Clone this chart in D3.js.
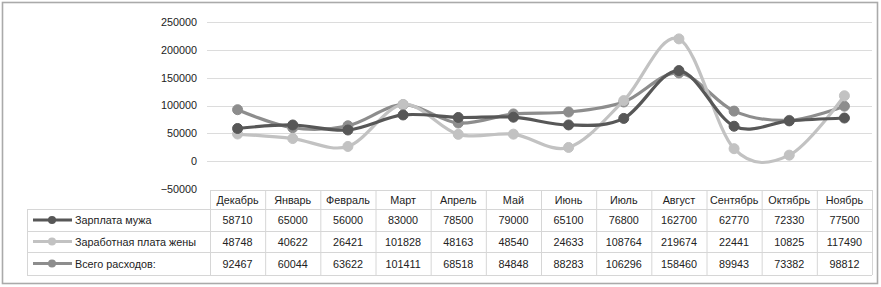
<!DOCTYPE html>
<html><head><meta charset="utf-8">
<script src="https://cdn.jsdelivr.net/npm/d3@7"></script>
<style>html,body{margin:0;padding:0;background:#fff;}svg{display:block;}</style>
</head><body>
<script>
const categories = ["Декабрь","Январь","Февраль","Март","Апрель","Май","Июнь","Июль","Август","Сентябрь","Октябрь","Ноябрь"];
const seriesNames = ["Зарплата мужа","Заработная плата жены","Всего расходов:"];
const husband = [58710,65000,56000,83000,78500,79000,65100,76800,162700,62770,72330,77500];
const wife = [48748,40622,26421,101828,48163,48540,24633,108764,219674,22441,10825,117490];
const total = [92467,60044,63622,101411,68518,84848,88283,106296,158460,89943,73382,98812];
const yTicks = [-50000,0,50000,100000,150000,200000,250000];

const W = 881, H = 287;
const colors = ["#575757","#c2c2c2","#8d8d8d"];
const seriesData = [husband, wife, total];
const font = "'Liberation Sans', Arial, sans-serif";
const fs = 10.8;
const txtC = "#222";

const svg = d3.select("body").append("svg").attr("width", W).attr("height", H)
  .style("font-family", font).style("font-size", fs + "px");

// outer frame
svg.append("rect").attr("x", 2.5).attr("y", 2.5).attr("width", W - 6).attr("height", H - 6)
  .attr("fill", "#fff").attr("stroke", "#aaaaaa").attr("stroke-width", 1.6);

const left = 210, right = 872;
const x = d3.scaleBand().domain(categories).range([left, right]).padding(0);
const y = d3.scaleLinear().domain([-50000, 250000]).range([189, 22]);

// gridlines
svg.append("g").selectAll("line").data(yTicks.filter(t => t > -50000)).join("line")
  .attr("x1", 207).attr("x2", right).attr("y1", d => Math.round(y(d)) + 0.5).attr("y2", d => Math.round(y(d)) + 0.5)
  .attr("stroke", "#dcdcdc").attr("stroke-width", 1);

// y axis labels
const yAxis = d3.axisLeft(y).tickValues(yTicks).tickSize(0).tickPadding(0).tickFormat(d3.format("d"));
const ga = svg.append("g").attr("transform", "translate(197,0)").call(yAxis);
ga.select(".domain").remove();
ga.selectAll("text").attr("fill", txtC).style("font-family", font).style("font-size", fs + "px");

// lines
const line = d3.line().x((d, i) => x(categories[i]) + x.bandwidth() / 2).y(d => y(d)).curve(d3.curveCardinal.tension(0));
const order = [2, 1, 0];
order.forEach(si => {
  const g = svg.append("g");
  g.append("path").attr("d", line(seriesData[si])).attr("fill", "none")
    .attr("stroke", colors[si]).attr("stroke-width", 3.2).attr("stroke-linejoin", "round");
  g.selectAll("circle").data(seriesData[si]).join("circle")
    .attr("cx", (d, i) => x(categories[i]) + x.bandwidth() / 2).attr("cy", d => y(d)).attr("r", 5)
    .attr("fill", colors[si]).attr("stroke", colors[si]);
});

// data table
const tbl = svg.append("g");
const rowTops = [190, 209, 231, 252, 275];
const legendLeft = 27;
const gridC = "#d6d6d6";
tbl.append("line").attr("x1", left).attr("x2", right).attr("y1", rowTops[0] + 0.5).attr("y2", rowTops[0] + 0.5).attr("stroke", gridC);
rowTops.slice(1).forEach(t => tbl.append("line").attr("x1", legendLeft).attr("x2", right).attr("y1", t + 0.5).attr("y2", t + 0.5).attr("stroke", gridC));
categories.forEach(c => tbl.append("line").attr("x1", x(c) + 0.5).attr("x2", x(c) + 0.5).attr("y1", rowTops[0]).attr("y2", rowTops[4]).attr("stroke", gridC));
tbl.append("line").attr("x1", right + 0.5).attr("x2", right + 0.5).attr("y1", rowTops[0]).attr("y2", rowTops[4]).attr("stroke", gridC);
tbl.append("line").attr("x1", legendLeft + 0.5).attr("x2", legendLeft + 0.5).attr("y1", rowTops[1]).attr("y2", rowTops[4]).attr("stroke", gridC);

// header
tbl.selectAll("text.hdr").data(categories).join("text").attr("class", "hdr")
  .attr("x", d => x(d) + x.bandwidth() / 2).attr("y", (rowTops[0] + rowTops[1]) / 2 + 4)
  .attr("text-anchor", "middle").attr("fill", txtC).text(d => d);

// rows
seriesData.forEach((arr, si) => {
  const cy = (rowTops[si + 1] + rowTops[si + 2]) / 2;
  tbl.append("line").attr("x1", 33).attr("x2", 72).attr("y1", cy).attr("y2", cy)
    .attr("stroke", colors[si]).attr("stroke-width", 3.2);
  tbl.append("circle").attr("cx", 52).attr("cy", cy).attr("r", 4).attr("fill", colors[si]);
  tbl.append("text").attr("x", 75).attr("y", cy + 4).attr("fill", txtC).text(seriesNames[si]);
  tbl.selectAll("text.v" + si).data(arr).join("text").attr("class", "v" + si)
    .attr("x", (d, i) => x(categories[i]) + x.bandwidth() / 2).attr("y", cy + 4)
    .attr("text-anchor", "middle").attr("fill", txtC).text(d => d);
});
</script>
</body></html>
